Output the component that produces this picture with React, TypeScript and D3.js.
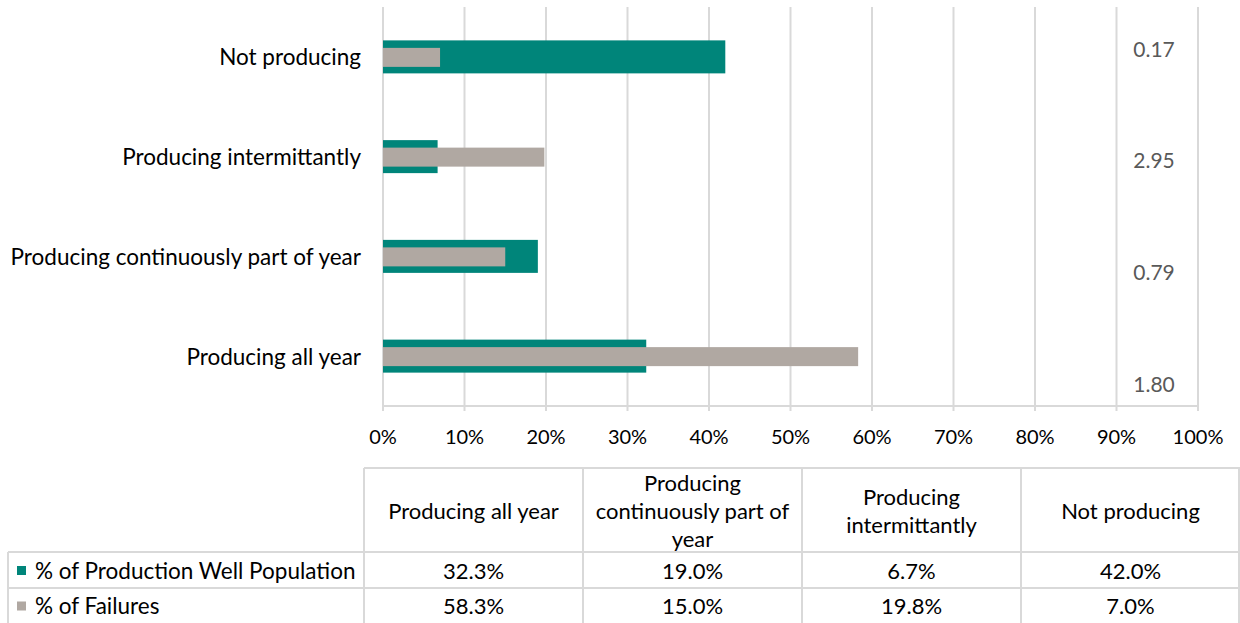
import React from "react";
import * as d3 from "d3";

const categories = ["Producing all year", "Producing continuously part of year", "Producing intermittantly", "Not producing"];
const chartOrder = ["Not producing", "Producing intermittantly", "Producing continuously part of year", "Producing all year"];
const wellPopulation = [32.3, 19.0, 6.7, 42.0];
const failures = [58.3, 15.0, 19.8, 7.0];
const ratioLabels = ["0.17", "2.95", "0.79", "1.80"];
const xTicks = [0, 10, 20, 30, 40, 50, 60, 70, 80, 90, 100];
const headerLines = [["Producing all year"], ["Producing", "continuously part of", "year"], ["Producing", "intermittantly"], ["Not producing"]];
const seriesNames = ["% of Production Well Population", "% of Failures"];

const TEAL = "#00857A";
const GRAY = "#B0A8A2";
const GRID = "#D9D9D9";
const FONT = "Lato, 'Open Sans', sans-serif";

export default function App() {
  const W = 1240, H = 623;
  const x = d3.scaleLinear().domain([0, 100]).range([383, 1198]);
  const y = d3.scaleBand().domain(chartOrder).range([7, 406]).paddingInner(0).paddingOuter(0);
  const ratioY = d3.scalePoint().domain(chartOrder).range([48, 383]);
  const tealH = 33, grayH = 19;
  const val = (arr: number[], c: string) => arr[categories.indexOf(c)];

  const colX = d3.scaleBand().domain(categories).range([364, 1240]);
  const rowTop = 468, headerBottom = 552, row1Bottom = 588, tableBottom = 623;

  return (
    <svg width={W} height={H} style={{ position: "absolute", left: 0, top: 0, background: "#fff" }} fontFamily={FONT}>
      {xTicks.map(t => (
        <line key={"g" + t} x1={x(t)} x2={x(t)} y1={7} y2={411} stroke={GRID} strokeWidth={2} />
      ))}
      <line x1={x(0)} x2={x(100)} y1={406} y2={406} stroke={GRID} strokeWidth={2} />
      {chartOrder.map(c => {
        const cy = (y(c) as number) + y.bandwidth() / 2;
        return (
          <g key={c}>
            <rect x={x(0)} y={cy - tealH / 2} width={x(val(wellPopulation, c)) - x(0)} height={tealH} fill={TEAL} />
            <rect x={x(0)} y={cy - grayH / 2 + 0.5} width={x(val(failures, c)) - x(0)} height={grayH} fill={GRAY} />
            <text x={361} y={cy} textAnchor="end" dominantBaseline="central" fontSize={22.5} fill="#000">{c}</text>
          </g>
        );
      })}
      {chartOrder.map((c, i) => (
        <text key={"r" + c} x={1154} y={ratioY(c)} textAnchor="middle" dominantBaseline="central" fontSize={21} fill="#595959">{ratioLabels[i]}</text>
      ))}
      {xTicks.map(t => (
        <text key={"t" + t} x={x(t)} y={436} textAnchor="middle" dominantBaseline="central" fontSize={20} fill="#000">{t + "%"}</text>
      ))}
      <g stroke={GRID} strokeWidth={2} fill="none">
        <line x1={364} x2={1240} y1={rowTop} y2={rowTop} />
        <line x1={8} x2={1240} y1={headerBottom} y2={headerBottom} />
        <line x1={8} x2={1240} y1={row1Bottom} y2={row1Bottom} />
        <line x1={8} x2={8} y1={headerBottom} y2={tableBottom} />
        {categories.map(c => (
          <line key={"v" + c} x1={colX(c)} x2={colX(c)} y1={rowTop} y2={tableBottom} />
        ))}
        <line x1={1239} x2={1239} y1={rowTop} y2={tableBottom} />
      </g>
      {categories.map((c, i) => {
        const cx = (colX(c) as number) + colX.bandwidth() / 2;
        const lines = headerLines[i];
        const mid = (rowTop + headerBottom) / 2;
        return (
          <g key={"h" + c}>
            {lines.map((ln, j) => (
              <text key={j} x={cx} y={mid + (j - (lines.length - 1) / 2) * 28} textAnchor="middle" dominantBaseline="central" fontSize={22} fill="#000">{ln}</text>
            ))}
            <text x={cx} y={(headerBottom + row1Bottom) / 2} textAnchor="middle" dominantBaseline="central" fontSize={22} fill="#000">{wellPopulation[i].toFixed(1) + "%"}</text>
            <text x={cx} y={(row1Bottom + tableBottom) / 2} textAnchor="middle" dominantBaseline="central" fontSize={22} fill="#000">{failures[i].toFixed(1) + "%"}</text>
          </g>
        );
      })}
      {seriesNames.map((s, i) => {
        const cy = i === 0 ? (headerBottom + row1Bottom) / 2 : (row1Bottom + tableBottom) / 2;
        return (
          <g key={s}>
            <rect x={17} y={cy - 4} width={9} height={9} fill={i === 0 ? TEAL : GRAY} />
            <text x={35} y={cy} dominantBaseline="central" fontSize={22.5} fill="#000">{s}</text>
          </g>
        );
      })}
    </svg>
  );
}
